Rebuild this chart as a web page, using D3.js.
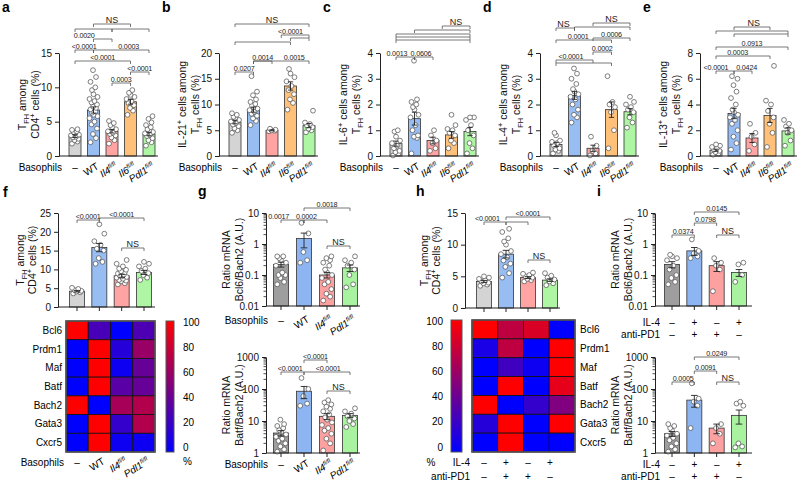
<!DOCTYPE html>
<html><head><meta charset="utf-8">
<script src="https://cdn.jsdelivr.net/npm/d3@7"></script>
<style>body{margin:0;background:#fff}svg{font-family:"Liberation Sans",Arial,sans-serif}</style>
</head><body><svg id="c" width="800" height="481"></svg>
<script>
// ---------------- DATA ----------------
const basoLabels5 = [[["–"]],[["WT"]],[["Il4","i"],["fl/fl","isup"]],[["Il6","i"],["fl/fl","isup"]],[["Pdl1","i"],["fl/fl","isup"]]];
const basoLabels4 = [[["–"]],[["WT"]],[["Il4","i"],["fl/fl","isup"]],[["Pdl1","i"],["fl/fl","isup"]]];
const il4Signs = ["–","+","–","+"];
const pd1Signs = ["–","+","+","–"];
const heatRows = ["Bcl6","Prdm1","Maf","Batf","Bach2","Gata3","Cxcr5"];
const cbarTicks = [0,20,40,60,80,100];

// a: TFH among CD4+ (%)
const aMean=[2.9,6.7,3.6,7.9,3.2], aSem=[0.2,0.45,0.25,0.35,0.25];
const aPts=[[1.8,2.1,2.3,2.5,2.7,2.8,3.0,3.1,3.3,3.5,3.6,3.8,3.9],
 [2.0,2.6,3.2,4.0,4.6,5.0,5.5,5.8,6.0,6.3,6.5,6.8,7.0,7.2,7.5,7.8,8.0,8.3,8.6,9.0,9.6,10.0,10.8,11.5,12.5],
 [1.8,2.3,2.7,3.0,3.2,3.4,3.6,3.9,4.2,4.5,4.8,5.1],
 [6.0,6.6,7.0,7.4,7.7,8.0,8.3,8.6,8.9,9.2,9.6],
 [1.5,2.0,2.3,2.6,2.9,3.1,3.3,3.5,3.7,3.9,4.2,4.5,4.9,5.4,5.8]];
// b: IL-21
const bMean=[6.6,9.0,5.0,13.6,5.9], bSem=[0.35,0.5,0.1,0.8,0.4];
const bPts=[[4.5,5.0,5.4,5.8,6.1,6.4,6.7,7.0,7.3,7.6,8.0,8.3],
 [6.0,6.8,7.3,7.8,8.2,8.6,8.9,9.2,9.5,9.8,10.1,10.5,11.0,11.8,12.5,15.5],
 [4.8,4.9,5.0,5.1,5.3],
 [9.0,10.3,11.0,12.0,12.8,13.6,14.5,15.3,16.0,16.9],
 [4.6,5.0,5.3,5.6,5.9,6.2,6.5,8.8]];
// c: IL-6
const cMean=[0.48,1.45,0.6,0.82,0.95], cSem=[0.1,0.25,0.13,0.13,0.16];
const cPts=[[0.02,0.1,0.15,0.2,0.3,0.4,0.5,0.6,0.75,0.95,1.0],
 [0.1,0.7,0.75,0.8,1.0,1.2,1.5,1.6,1.8,1.9,2.0,2.1,2.2,3.7],
 [0.2,0.3,0.5,0.6,0.8,1.0],
 [0.3,0.5,0.6,0.8,0.9,1.0,1.05,1.2,1.6],
 [0.1,0.3,0.5,0.8,1.0,1.2,1.4,1.5,1.5]];
// d: IL-4
const dMean=[0.45,2.35,0.3,1.8,1.72], dSem=[0.08,0.15,0.12,0.3,0.12];
const dPts=[[0.1,0.2,0.25,0.3,0.4,0.5,0.55,0.6,0.8,0.9],
 [1.3,1.5,1.6,1.8,2.0,2.2,2.3,2.4,2.5,2.6,2.8,3.0,3.2,3.4],
 [0.02,0.1,0.2,0.4,0.75],
 [0.3,1.0,1.7,1.9,2.0,2.1,3.1],
 [1.1,1.3,1.5,1.7,1.8,1.9,2.0,2.1,2.3]];
// e: IL-13
const eMean=[0.45,3.3,1.4,3.15,1.95], eSem=[0.08,0.4,0.35,0.55,0.25];
const ePts=[[0.1,0.2,0.3,0.4,0.5,0.6,0.7,0.8,0.9],
 [0.5,1.0,1.5,2.0,2.5,2.8,3.0,3.2,3.4,3.6,4.0,4.5,5.0,5.5,6.0,6.2],
 [0.4,0.9,1.5,1.8,2.5],
 [0.7,1.8,2.5,3.0,3.5,4.0,4.3,7.0],
 [0.8,1.2,1.8,2.0,2.3,2.5,2.8]];
// f
const fMean=[4.2,15.8,8.3,9.2], fSem=[0.2,1.1,0.4,0.55];
const fPts=[[3.6,3.9,4.1,4.3,4.5,4.8,5.1],
 [11.5,12,13,15,15.5,16.5,17.5,19.5,22],
 [6,6.3,6.8,7,7.2,7.5,7.8,8,8.1,8.3,8.6,8.9,9.2,9.5,9.9,10.2,10.8,11.5,12.5],
 [7.2,7.8,8.5,9,9.6,10.2,10.8,11.5,12]];
const fHeat=[[100,28,0,30],[0,100,15,60],[0,100,5,40],[0,100,35,40],[100,0,65,70],[0,100,20,70],[0,100,5,5]];
// g
const gTopMean=[0.22,1.5,0.1,0.17], gTopSem=[0.04,0.75,0.02,0.04];
const gTopPts=[[0.05,0.06,0.08,0.1,0.1,0.12,0.2,0.25,0.3,0.35,0.4,0.4],
 [0.25,0.3,0.55,2.2,4.8],
 [0.015,0.02,0.025,0.035,0.05,0.06,0.08,0.1,0.12,0.15,0.2,0.25,0.3,0.35,0.4],
 [0.04,0.05,0.1,0.15,0.2,0.25,0.3,0.4]];
const gBotMean=[4.2,85,14,15], gBotSem=[0.8,35,3,2];
const gBotPts=[[1.1,1.3,1.6,2,2.4,2.8,3.2,3.8,4.5,5.2,6,7,8,11],
 [30,35,60,100,220],
 [1.2,2,2.8,4,5,6,7.5,9,11,13,16,20,24,28,33,38,45],
 [6.5,8,10,12,14,17,20,25]];
// h
const hMean=[4.2,8.5,4.8,4.4], hSem=[0.15,0.6,0.15,0.2];
const hPts=[[3.5,3.7,3.9,4,4.2,4.4,4.6,4.8,5],
 [4.8,5.5,6.5,7,7.5,8,8.5,9,10,10.5,11,12,12.5],
 [4.2,4.4,4.6,4.8,5,5.2,5.4,5.6],
 [3.6,3.9,4.2,4.5,4.8,5.1,5.5]];
const hHeat=[[100,75,85,0],[10,75,0,100],[0,25,5,100],[0,100,0,90],[100,0,20,50],[15,100,0,100],[0,100,0,0]];
// i
const iTopMean=[0.22,0.6,0.2,0.12], iTopSem=[0.05,0.17,0.07,0.03];
const iTopPts=[[0.05,0.06,0.08,0.1,0.15,0.2,0.3,0.35,0.4,0.45],[0.35,0.4,0.5,0.6,1.4],[0.03,0.15,0.2,0.25,0.35],[0.06,0.1,0.22,0.25]];
const iBotMean=[4,45,6,15], iBotSem=[0.7,18,2,7];
const iBotPts=[[1.1,1.3,1.6,2,2.5,3,3.5,4,5,6,7,8],[6,30,40,50,150],[2,4,6,8],[1.5,1.6,2,30,35,40]];

// ---------------- DRAWING ----------------
const svg=d3.select("#c");
const C5=["#d4d4d4","#97bdf3","#ffa3a3","#ffc17a","#aef5a4"];
const C4=["#d4d4d4","#97bdf3","#ffa3a3","#aef5a4"];
const C4d=["#9e9e9e","#8cb5f2","#fca0a0","#a8f2a0"];

function rich(sel,parts,fs){
  let cur=0;
  parts.forEach(([t,st])=>{
    let want=0,size=fs,style=null;
    if(st==="sub"){want=fs*0.3;size=fs*0.7;}
    if(st==="sup"){want=-fs*0.4;size=fs*0.7;}
    if(st==="i"){style="italic";}
    if(st==="isup"){want=-fs*0.4;size=fs*0.6;style="italic";}
    const ts=sel.append("tspan").attr("dy",want-cur).attr("font-size",size).text(t);
    if(style)ts.attr("font-style",style);
    cur=want;
  });
}
function letter(t,x,y){svg.append("text").attr("x",x).attr("y",y).attr("font-size",14).attr("font-weight","bold").text(t);}
function bracket(g,xa,xb,y,label,lx){
  g.append("path").attr("d",`M${xa},${y+3}V${y}H${xb}V${y+3}`).attr("fill","none").attr("stroke","#555").attr("stroke-width",0.8);
  if(label)g.append("text").attr("x",lx!=null?lx:(xa+xb)/2).attr("y",y-1.5).attr("text-anchor","middle")
    .attr("font-size",label==="NS"?9:7.2).attr("letter-spacing",label==="NS"?0:-0.2).attr("fill","#222").text(label);
}
function yTitle(lines,x0,yc,offs){
  lines.forEach((ln,k)=>{
    const t=svg.append("text").attr("transform",`translate(${x0+offs[k]},${yc}) rotate(-90)`).attr("text-anchor","middle").attr("font-size",10.5).attr("fill","#111");
    rich(t,ln,10.5);
  });
}
function catLabels(g,xp,labels,yb,rowLab,rowX){
  labels.forEach((parts,i)=>{
    if(parts[0][0]==="–"){
      g.append("text").attr("x",xp(i)).attr("y",yb).attr("text-anchor","middle").attr("font-size",10).text("–");
    }else{
      const t=g.append("text").attr("transform",`translate(${xp(i)+6},${yb-3}) rotate(-32)`).attr("text-anchor","end").attr("font-size",10);
      rich(t,parts,10);
    }
  });
  if(rowLab)g.append("text").attr("x",rowX).attr("y",yb).attr("text-anchor","end").attr("font-size",10).text(rowLab);
}
function signLabels(g,xp,yb1,yb2,rowX){
  il4Signs.forEach((s,i)=>g.append("text").attr("x",xp(i)).attr("y",yb1).attr("text-anchor","middle").attr("font-size",10).text(s));
  pd1Signs.forEach((s,i)=>g.append("text").attr("x",xp(i)).attr("y",yb2).attr("text-anchor","middle").attr("font-size",10).text(s));
  g.append("text").attr("x",rowX).attr("y",yb1).attr("text-anchor","end").attr("font-size",10).text("IL-4");
  g.append("text").attr("x",rowX).attr("y",yb2).attr("text-anchor","end").attr("font-size",10).text("anti-PD1");
}
const offs=[-3,2.5,-0.5,3.5,-2,1,-4,4,0,-1.5,1.8];
function barChart(c){
  const g=svg.append("g");
  const n=c.means.length;
  const xp=d3.scalePoint().domain(d3.range(n)).range([c.cx0,c.cx1]);
  const xi=d3.scaleLinear().domain([0,n-1]).range([c.cx0,c.cx1]);
  const y=(c.log?d3.scaleLog():d3.scaleLinear()).domain(c.domain).range([c.yb,c.yt]);
  const base=c.domain[0];
  g.selectAll("rect.bar").data(c.means).join("rect").attr("class","bar")
    .attr("x",(d,i)=>xp(i)-c.bw/2).attr("width",c.bw).attr("y",d=>y(d)).attr("height",d=>y(base)-y(d))
    .attr("fill",(d,i)=>c.colors[i]).attr("stroke","#333").attr("stroke-width",0.8);
  c.points.forEach((arr,i)=>{
    g.append("g").selectAll("circle").data(arr).join("circle")
      .attr("cx",(d,j)=>xp(i)+offs[j%offs.length]*c.bw/12).attr("cy",d=>y(d)).attr("r",2.4)
      .attr("fill","#fff").attr("stroke","#555").attr("stroke-width",0.75);
  });
  const eg=g.append("g").attr("stroke","#222").attr("stroke-width",0.9);
  c.means.forEach((m,i)=>{
    const lo=y(m-c.sems[i]),hi=y(m+c.sems[i]),x=xp(i),w=c.bw*0.22;
    eg.append("line").attr("x1",x).attr("x2",x).attr("y1",lo).attr("y2",hi);
    eg.append("line").attr("x1",x-w).attr("x2",x+w).attr("y1",hi).attr("y2",hi);
    eg.append("line").attr("x1",x-w).attr("x2",x+w).attr("y1",lo).attr("y2",lo);
  });
  const ax=d3.axisLeft(y).tickValues(c.ticks).tickFormat(d=>String(d)).tickSize(4).tickSizeOuter(0);
  const ga=g.append("g").attr("transform",`translate(${c.x0},0)`).call(ax);
  ga.select(".domain").attr("stroke","#222");
  ga.selectAll("line").attr("stroke","#222");
  ga.selectAll("text").attr("font-size",10).attr("fill","#111").attr("font-family",null);
  if(c.log){
    const e0=Math.round(Math.log10(c.domain[0])),e1=Math.round(Math.log10(c.domain[1]));
    const minors=[];
    for(let e=e0;e<e1;e++)for(let k=2;k<=9;k++)minors.push(k*Math.pow(10,e));
    g.append("g").selectAll("line").data(minors).join("line").attr("x1",c.x0-2.5).attr("x2",c.x0).attr("y1",d=>y(d)).attr("y2",d=>y(d)).attr("stroke","#222").attr("stroke-width",0.8);
  }
  g.append("line").attr("x1",c.x0).attr("x2",c.x1).attr("y1",c.yb).attr("y2",c.yb).attr("stroke","#222");
  if(c.xticks)g.append("g").selectAll("line").data(d3.range(n)).join("line").attr("x1",d=>xp(d)).attr("x2",d=>xp(d)).attr("y1",c.yb).attr("y2",c.yb+4).attr("stroke","#222");
  (c.brackets||[]).forEach(b=>bracket(g,xi(b[0]),xi(b[1]),b[2],b[3],b[4]!=null?xi(b[4]):null));
  yTitle(c.title,c.x0,(c.yb+c.yt)/2,c.toffs);
  return {g,xp,xi,y};
}
function heatmap(c){
  const g=svg.append("g");
  const xb=d3.scaleBand().domain(d3.range(c.vals[0].length)).range([c.x0,c.x1]);
  const yb=d3.scaleBand().domain(heatRows).range([c.y0,c.y1]);
  const col=d3.scaleLinear().domain([0,100]).range(["#0000ff","#ff0000"]);
  c.vals.forEach((row,r)=>{
    g.append("g").selectAll("rect").data(row).join("rect")
      .attr("x",(d,j)=>xb(j)).attr("y",yb(heatRows[r])).attr("width",xb.bandwidth()).attr("height",yb.bandwidth())
      .attr("fill",d=>col(d)).attr("stroke","#111").attr("stroke-width",0.8);
  });
  g.append("rect").attr("x",c.x0).attr("y",c.y0).attr("width",c.x1-c.x0).attr("height",c.y1-c.y0).attr("fill","none").attr("stroke","#555").attr("stroke-width",1.6);
  g.selectAll("text.rl").data(heatRows).join("text").attr("class","rl")
    .attr("x",c.labRight?c.x1+5:c.x0-4).attr("y",d=>yb(d)+yb.bandwidth()/2+3.5)
    .attr("text-anchor",c.labRight?"start":"end").attr("font-size",10).text(d=>d);
  const id="grad"+c.id;
  const lg=svg.append("defs").append("linearGradient").attr("id",id).attr("x1",0).attr("y1",1).attr("x2",0).attr("y2",0);
  lg.append("stop").attr("offset",0).attr("stop-color","#0000ff");
  lg.append("stop").attr("offset",1).attr("stop-color","#ff0000");
  g.append("rect").attr("x",c.cbx).attr("y",c.y0).attr("width",c.cbw).attr("height",c.y1-c.y0).attr("fill",`url(#${id})`).attr("stroke","#555").attr("stroke-width",1);
  const cy=d3.scaleLinear().domain([0,100]).range([c.y1-5,c.y0+1]);
  g.selectAll("text.cb").data(cbarTicks).join("text").attr("class","cb")
    .attr("x",c.cblx).attr("y",d=>cy(d)+3.5).attr("text-anchor",c.cbAnchor).attr("font-size",10).text(d=>d);
  g.append("text").attr("x",c.pctx).attr("y",c.pcty).attr("text-anchor",c.cbAnchor==="end"?"middle":"start").attr("font-size",10).text("%");
}

// ----- top row -----
const tops=[
 {L:"a",x0:59,means:aMean,sems:aSem,pts:aPts,domain:[0,15],ticks:[0,5,10,15],
  title:[[["T"],["FH","sub"],[" among"]],[["CD4"],["+","sup"],[" cells (%)"]]],
  br:[[0,2,29,""],[2,4,29,""],[1,3,24,"NS"],[1,2,39,"0.0020",0.5],[0,1,50,"<0.0001"],[1,4,50,"0.0003",2.9],[0,3,61,"<0.0001"],[3,4,72,"<0.0001"],[2,3,83,"0.0003"]]},
 {L:"b",x0:219,means:bMean,sems:bSem,pts:bPts,domain:[0,20],ticks:[0,5,10,15,20],
  title:[[["IL-21"],["+","sup"],[" cells among"]],[["T"],["FH","sub"],[" cells (%)"]]],
  br:[[0,4,24,"NS"],[2.5,4,35,"<0.0001",3],[3,4,38,""],[0,3,42,""],[1,2,61,"0.0014"],[1,4,61,"0.0015",3.2],[0,1,72,"0.0207"]]},
 {L:"c",x0:380,means:cMean,sems:cSem,pts:cPts,domain:[0,4],ticks:[0,1,2,3,4],
  title:[[["IL-6"],["+","sup"],[" cells among"]],[["T"],["FH","sub"],[" cells (%)"]]],
  br:[[2.5,4,26,"NS"],[1,4,30,""],[0,4,34,""],[0,4,37,""],[0,4,40,""],[0,1,57,"0.0013",0.05],[1,2,57,"0.0606",1.35]]},
 {L:"d",x0:540,means:dMean,sems:dSem,pts:dPts,domain:[0,4],ticks:[0,1,2,3,4],
  title:[[["IL-4"],["+","sup"],[" cells among"]],[["T"],["FH","sub"],[" cells (%)"]]],
  br:[[2,4,23,"NS"],[0,1,28,"NS",0.4],[1,4,27,""],[0,3,40,"0.0001",1.2],[2,4,38,"0.0006"],[2,3,52,"0.0002"],[0,2,60,"<0.0001",0.8],[0,3,63,""]]},
 {L:"e",x0:700,means:eMean,sems:eSem,pts:ePts,domain:[0,8],ticks:[0,2,4,6,8],
  title:[[["IL-13"],["+","sup"],[" cells among"]],[["T"],["FH","sub"],[" cells (%)"]]],
  br:[[1,3,27,"NS",2.1],[0,4,31,""],[1,4,34,""],[0,4,47,"0.0913"],[0,3,56,"0.0003",1.2],[0,1,71,"<0.0001",0],[1,2,71,"0.0424",1.7]]}
];
tops.forEach((p,k)=>{
  const r=barChart({x0:p.x0,x1:p.x0+(k===4?97:99),cx0:p.x0+16,cx1:p.x0+(k===4?88:90),yt:53,yb:156,domain:p.domain,ticks:p.ticks,
    bw:12,means:p.means,sems:p.sems,points:p.pts,colors:C5,brackets:p.br,title:p.title,toffs:[-33,-20]});
  catLabels(r.g,r.xp,basoLabels5,171,"Basophils",p.x0+3);
  letter(p.L,p.x0-57,12);
});

// ----- f -----
letter("f",3,197);
const fr=barChart({x0:58,x1:155,cx0:77,cx1:144,yt:213,yb:307,domain:[0,25],ticks:[0,5,10,15,20,25],bw:15,
  means:fMean,sems:fSem,points:fPts,colors:C4,xticks:true,
  brackets:[[0,1,220,"<0.0001"],[1,3,218,"<0.0001"],[2,3,248,"NS"]],
  title:[[["T"],["FH","sub"],[" among"]],[["CD4"],["+","sup"],[" cells (%)"]]],toffs:[-34,-22]});
heatmap({id:"f",vals:fHeat,x0:66,x1:155,y0:321,y1:452,labRight:false,cbx:166,cbw:8,cblx:183,cbAnchor:"start",pctx:183,pcty:465});
catLabels(fr.g,fr.xp,basoLabels4,466,"Basophils",64);

// ----- g -----
letter("g",198,196);
const gt=barChart({x0:266,x1:360,cx0:281,cx1:350,yt:213,yb:306,domain:[0.01,10],log:true,ticks:[0.01,0.1,1,10],bw:15,
  means:gTopMean,sems:gTopSem,points:gTopPts,colors:C4d,xticks:true,
  brackets:[[0,1,220,"0.0017",-0.1],[1,2,220,"0.0002",1.1],[1,3,208,"0.0018"],[2,3,246,"NS"]],
  title:[[["Ratio mRNA"]],[["Bcl6/Bach2 (A.U.)"]]],toffs:[-36,-23]});
catLabels(gt.g,gt.xp,basoLabels4,324,"Basophils",268);
const gb=barChart({x0:266,x1:360,cx0:281,cx1:350,yt:357,yb:453,domain:[1,1000],log:true,ticks:[1,10,100,1000],bw:15,
  means:gBotMean,sems:gBotSem,points:gBotPts,colors:C4d,xticks:true,
  brackets:[[1,2,360,"<0.0001"],[0,1,372,"<0.0001",0.4],[1,3,372,"<0.0001",2.05],[2,3,391,"NS"]],
  title:[[["Ratio mRNA"]],[["Batf/Bach2 (A.U.)"]]],toffs:[-36,-23]});
catLabels(gb.g,gb.xp,basoLabels4,468,"Basophils",268);

// ----- h -----
letter("h",416,196);
const hr=barChart({x0:465,x1:560,cx0:484,cx1:550,yt:213,yb:308,domain:[0,15],ticks:[0,5,10,15],bw:15,
  means:hMean,sems:hSem,points:hPts,colors:C4,xticks:true,
  brackets:[[0,1,222,"<0.0001",0.15],[1,2,222,""],[1,3,217,"<0.0001",2],[2,3,260,"NS"]],
  title:[[["T"],["FH","sub"],[" among"]],[["CD4"],["+","sup"],[" cells (%)"]]],toffs:[-37,-25]});
heatmap({id:"h",vals:hHeat,x0:472,x1:575,y0:320,y1:452,labRight:true,cbx:451,cbw:11,cblx:443,cbAnchor:"end",pctx:431,pcty:466});
signLabels(hr.g,hr.xp,466,480,470);

// ----- i -----
letter("i",597,196);
const it=barChart({x0:655,x1:752,cx0:672,cx1:739,yt:213,yb:306,domain:[0.01,10],log:true,ticks:[0.01,0.1,1,10],bw:15,
  means:iTopMean,sems:iTopSem,points:iTopPts,colors:C4d,xticks:true,
  brackets:[[1,3,212,"0.0145"],[1,2,223,"0.0798"],[0,1,235,"0.0374"],[2,3,235,"NS"]],
  title:[[["Ratio mRNA"]],[["Bcl6/Bach2 (A.U.)"]]],toffs:[-36,-23]});
signLabels(it.g,it.xp,326,338,660);
const ib=barChart({x0:655,x1:752,cx0:672,cx1:739,yt:357,yb:453,domain:[1,1000],log:true,ticks:[1,10,100,1000],bw:15,
  means:iBotMean,sems:iBotSem,points:iBotPts,colors:C4d,xticks:true,
  brackets:[[1,3,357,"0.0249"],[1,2,371,"0.0091"],[0,1,382,"0.0005"],[2,3,382,"NS"]],
  title:[[["Ratio mRNA"]],[["Batf/Bach2 (A.U.)"]]],toffs:[-36,-23]});
signLabels(ib.g,ib.xp,468,480,660);
</script></body></html>
